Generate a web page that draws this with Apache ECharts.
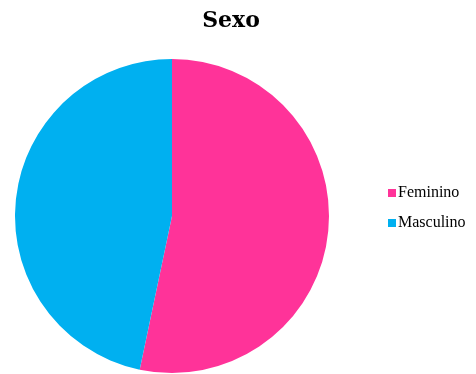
<!DOCTYPE html>
<html><head><meta charset="utf-8">
<script src="https://cdn.jsdelivr.net/npm/echarts@6/dist/echarts.min.js"></script>
<style>html,body{margin:0;padding:0;background:#fff}#c{width:476px;height:374px}</style>
</head><body><div id="c"></div>
<script>
const categories = ["Feminino", "Masculino"];
const values = [53.3, 46.7];
const colors = ["#FF3399", "#00B0F0"];
const chart = echarts.init(document.getElementById('c'), null, {renderer: 'canvas'});
chart.setOption({
  animation: false,
  backgroundColor: '#fff',
  textStyle: {fontFamily: 'Liberation Serif'},
  title: {
    text: 'Sexo', left: 226, top: 5, textAlign: 'center',
    textStyle: {fontFamily: 'DejaVu Serif', fontWeight: 'bold', fontSize: 22, color: '#000'}
  },
  legend: {
    orient: 'vertical', left: 383, top: 180, itemWidth: 8, itemHeight: 8, itemGap: 14,
    icon: 'rect',
    textStyle: {fontFamily: 'Liberation Serif', fontSize: 16, color: '#000', padding: [0,0,0,-3]},
    data: categories
  },
  series: [{
    type: 'pie', center: [172, 216], radius: [0, 157], startAngle: 90, clockwise: true,
    label: {show: false}, labelLine: {show: false}, emphasis: {disabled: true},
    itemStyle: {borderWidth: 0},
    data: categories.map((n, i) => ({name: n, value: values[i], itemStyle: {color: colors[i]}}))
  }]
});
</script></body></html>
